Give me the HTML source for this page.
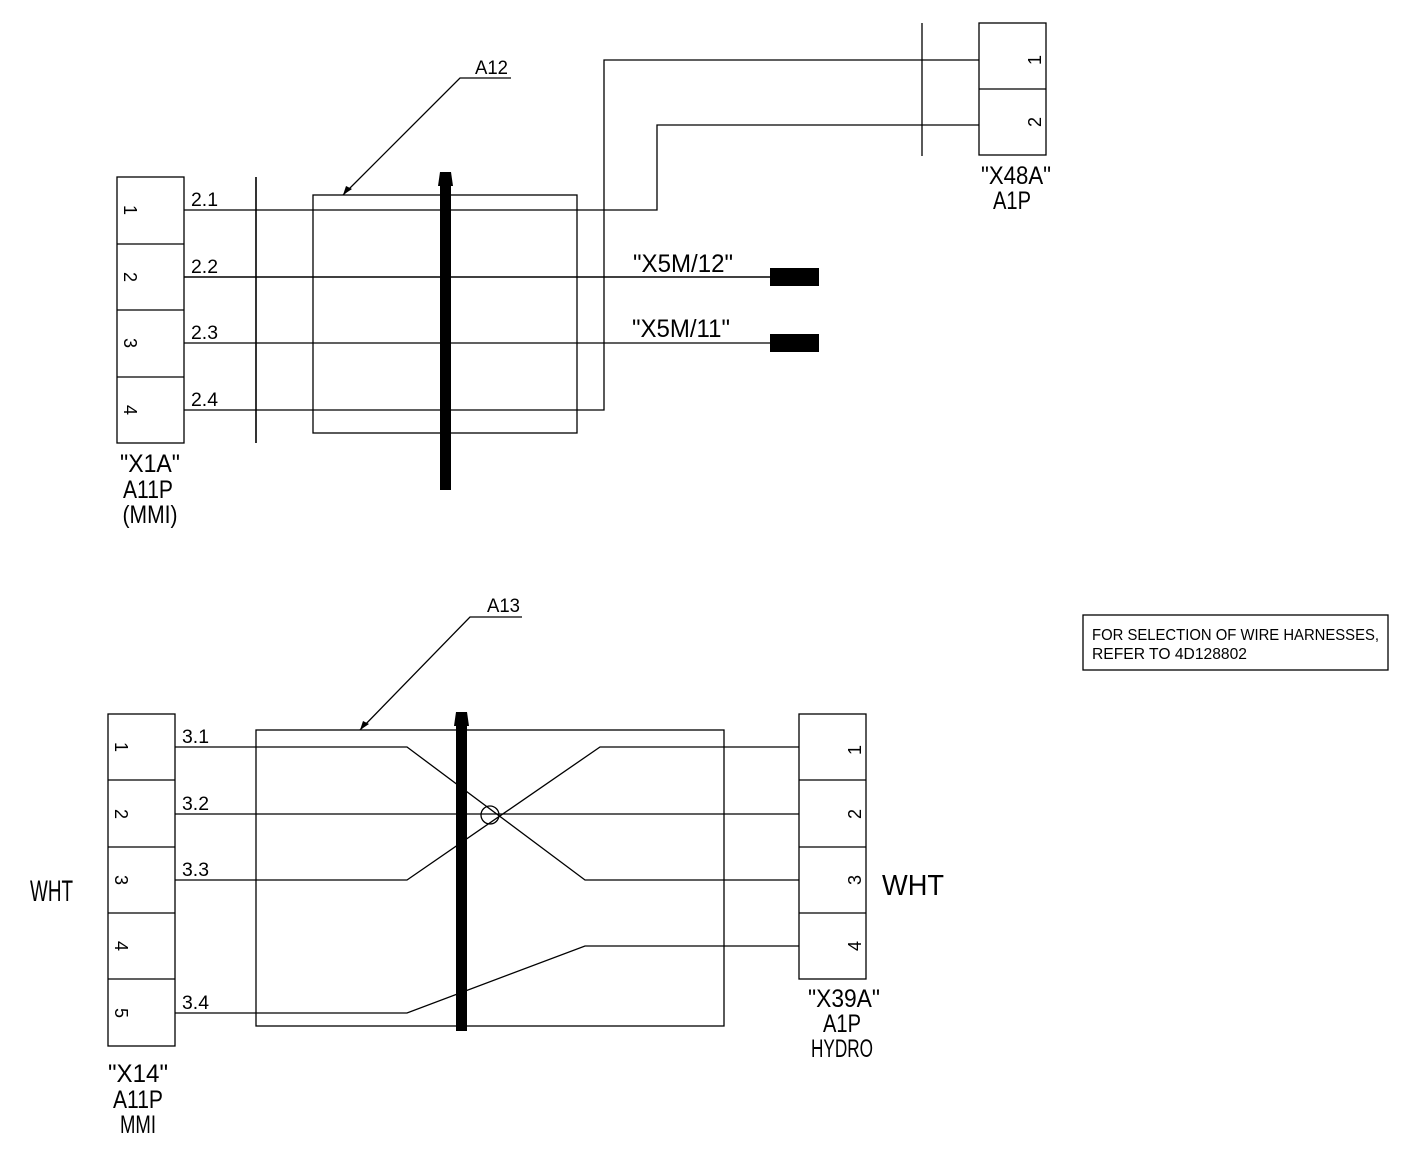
<!DOCTYPE html>
<html><head><meta charset="utf-8"><style>
html,body{margin:0;padding:0;background:#fff;}
svg{display:block;}
text{font-family:"Liberation Sans",sans-serif;fill:#000;}
</style></head><body>
<svg width="1410" height="1163" viewBox="0 0 1410 1163" xmlns="http://www.w3.org/2000/svg">
<g fill="none" stroke="#000" stroke-width="1.3">
<rect x="117" y="177" width="67" height="266"/>
<line x1="117" y1="244" x2="184" y2="244"/><line x1="117" y1="310" x2="184" y2="310"/><line x1="117" y1="377" x2="184" y2="377"/>
<line x1="256" y1="177" x2="256" y2="443" stroke-width="1.6"/>
<rect x="313" y="195" width="264" height="238"/>
<polyline points="184,210 657,210 657,125 979,125"/>
<polyline points="184,410 604,410 604,60 979,60"/>
<line x1="184" y1="277" x2="770" y2="277" stroke-width="1.6"/>
<line x1="184" y1="343" x2="770" y2="343"/>
<rect x="979" y="23" width="67" height="132"/>
<line x1="979" y1="89" x2="1046" y2="89"/>
<line x1="922" y1="23" x2="922" y2="156"/>
<polyline points="343,195 460,78 511,78"/>
<rect x="108" y="714" width="67" height="332"/>
<line x1="108" y1="780" x2="175" y2="780"/><line x1="108" y1="847" x2="175" y2="847"/><line x1="108" y1="913" x2="175" y2="913"/><line x1="108" y1="979" x2="175" y2="979"/>
<rect x="256" y="730" width="468" height="296"/>
<rect x="799" y="714" width="67" height="265"/>
<line x1="799" y1="780" x2="866" y2="780"/><line x1="799" y1="847" x2="866" y2="847"/><line x1="799" y1="913" x2="866" y2="913"/>
<line x1="175" y1="814" x2="799" y2="814"/>
<polyline points="175,747 407,747 585,880 799,880"/>
<polyline points="175,880 407,880 600,747 799,747"/>
<polyline points="175,1013 407,1013 585,946 799,946"/>
<circle cx="490" cy="815" r="9"/>
<polyline points="360,730 470,617 522,617"/>
<rect x="1083" y="615" width="305" height="55"/>
</g>
<path d="M343,195 L346,186 L352,189 Z" fill="#000"/>
<path d="M360,730 L363,721 L369,724 Z" fill="#000"/>
<rect x="440" y="180" width="11" height="310" fill="#000"/>
<path d="M438,186 L440,172 L451,172 L453,186 Z" fill="#000"/>
<rect x="456" y="720" width="11" height="311" fill="#000"/>
<path d="M454,726 L456,712 L467,712 L469,726 Z" fill="#000"/>
<rect x="770" y="268" width="49" height="18" fill="#000"/>
<rect x="770" y="334" width="49" height="18" fill="#000"/>
<g font-size="19">
<text x="191" y="206" textLength="27" lengthAdjust="spacingAndGlyphs">2.1</text>
<text x="191" y="273" textLength="27" lengthAdjust="spacingAndGlyphs">2.2</text>
<text x="191" y="339" textLength="27" lengthAdjust="spacingAndGlyphs">2.3</text>
<text x="191" y="406" textLength="27" lengthAdjust="spacingAndGlyphs">2.4</text>
<text x="182" y="743" textLength="27" lengthAdjust="spacingAndGlyphs">3.1</text>
<text x="182" y="810" textLength="27" lengthAdjust="spacingAndGlyphs">3.2</text>
<text x="182" y="876" textLength="27" lengthAdjust="spacingAndGlyphs">3.3</text>
<text x="182" y="1009" textLength="27" lengthAdjust="spacingAndGlyphs">3.4</text>
<text x="475" y="74" textLength="33" lengthAdjust="spacingAndGlyphs">A12</text>
<text x="487" y="612" textLength="33" lengthAdjust="spacingAndGlyphs">A13</text>
</g>
<g font-size="18">
<text transform="translate(124,210) rotate(90)" text-anchor="middle">1</text>
<text transform="translate(124,277) rotate(90)" text-anchor="middle">2</text>
<text transform="translate(124,343) rotate(90)" text-anchor="middle">3</text>
<text transform="translate(124,410) rotate(90)" text-anchor="middle">4</text>
<text transform="translate(115,747) rotate(90)" text-anchor="middle">1</text>
<text transform="translate(115,814) rotate(90)" text-anchor="middle">2</text>
<text transform="translate(115,880) rotate(90)" text-anchor="middle">3</text>
<text transform="translate(115,946) rotate(90)" text-anchor="middle">4</text>
<text transform="translate(115,1013) rotate(90)" text-anchor="middle">5</text>
<text transform="translate(1041,60) rotate(-90)" text-anchor="middle">1</text>
<text transform="translate(1041,122) rotate(-90)" text-anchor="middle">2</text>
<text transform="translate(861,750) rotate(-90)" text-anchor="middle">1</text>
<text transform="translate(861,814) rotate(-90)" text-anchor="middle">2</text>
<text transform="translate(861,880) rotate(-90)" text-anchor="middle">3</text>
<text transform="translate(861,946) rotate(-90)" text-anchor="middle">4</text>
</g>
<g font-size="25" text-anchor="middle">
<text x="150" y="472" textLength="60" lengthAdjust="spacingAndGlyphs">"X1A"</text>
<text x="148" y="498" textLength="50" lengthAdjust="spacingAndGlyphs">A11P</text>
<text x="150" y="523" textLength="55" lengthAdjust="spacingAndGlyphs">(MMI)</text>
<text x="1016" y="184" textLength="70" lengthAdjust="spacingAndGlyphs">"X48A"</text>
<text x="1012" y="209" textLength="38" lengthAdjust="spacingAndGlyphs">A1P</text>
<text x="138" y="1082" textLength="60" lengthAdjust="spacingAndGlyphs">"X14"</text>
<text x="138" y="1108" textLength="50" lengthAdjust="spacingAndGlyphs">A11P</text>
<text x="138" y="1133" textLength="36" lengthAdjust="spacingAndGlyphs">MMI</text>
<text x="844" y="1007" textLength="72" lengthAdjust="spacingAndGlyphs">"X39A"</text>
<text x="842" y="1032" textLength="38" lengthAdjust="spacingAndGlyphs">A1P</text>
<text x="842" y="1057" textLength="62" lengthAdjust="spacingAndGlyphs">HYDRO</text>
<text x="683" y="272" textLength="100" lengthAdjust="spacingAndGlyphs">"X5M/12"</text>
<text x="681" y="337" textLength="98" lengthAdjust="spacingAndGlyphs">"X5M/11"</text>
</g>
<text x="30" y="901" font-size="30" textLength="43" lengthAdjust="spacingAndGlyphs">WHT</text>
<text x="882" y="895" font-size="29" textLength="62" lengthAdjust="spacingAndGlyphs">WHT</text>
<g font-size="16">
<text x="1092" y="640" textLength="287" lengthAdjust="spacingAndGlyphs">FOR SELECTION OF WIRE HARNESSES,</text>
<text x="1092" y="659" textLength="155" lengthAdjust="spacingAndGlyphs">REFER TO 4D128802</text>
</g>
</svg>
</body></html>
